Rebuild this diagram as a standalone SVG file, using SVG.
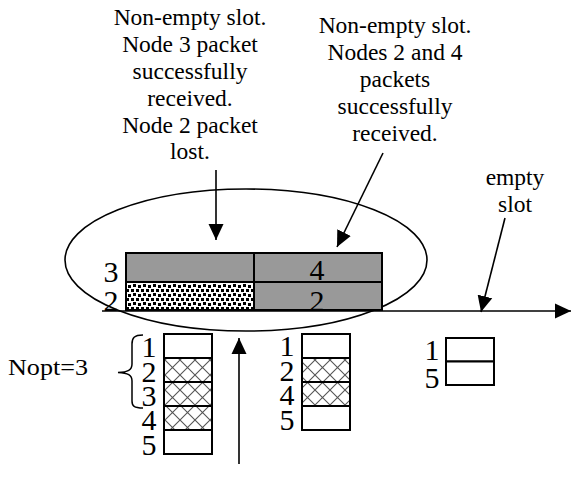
<svg xmlns="http://www.w3.org/2000/svg" width="571" height="481" viewBox="0 0 571 481" font-family="'Liberation Serif', 'DejaVu Serif', serif">
  <defs>
    <style>
      text { font-family: "Liberation Serif", "DejaVu Serif", serif; fill: #000; }
      .note { font-size: 23.5px; text-anchor: middle; }
      .num { font-size: 30px; text-anchor: middle; }
      .lbl { font-size: 23.5px; }
      .cell { stroke: #000; stroke-width: 2; }
      .conn { stroke: #000; stroke-width: 1.6; fill: none; }
    </style>
    <marker id="head" markerUnits="userSpaceOnUse" markerWidth="16" markerHeight="16" viewBox="0 0 16 16" refX="16" refY="8" orient="auto">
      <path d="M0,0.5 L16,8 L0,15.5 Z" fill="#000"/>
    </marker>
    <!-- speckle fill for the lost packet -->
    <pattern id="dots" patternUnits="userSpaceOnUse" width="10" height="9">
      <rect width="10" height="9" fill="#fff"/>
      <rect x="1" y="1" width="3" height="3" fill="#000"/>
      <rect x="6" y="1" width="3" height="3" fill="#000"/>
      <rect x="3" y="5" width="3" height="3" fill="#000"/>
      <rect x="8" y="6" width="3" height="3" fill="#000"/>
      <rect x="-2" y="6" width="3" height="3" fill="#000"/>
    </pattern>
    <!-- diamond cross-hatch for backlogged nodes -->
    <pattern id="hatch" patternUnits="userSpaceOnUse" width="15" height="15">
      <rect width="15" height="15" fill="#fff"/>
      <path d="M0,0 L15,15 M15,0 L0,15" stroke="#555" stroke-width="1.1"/>
    </pattern>
  </defs>

  <!-- annotations -->
  <g id="note-left">
    <text class="note" x="190" y="25">Non-empty slot.</text>
    <text class="note" x="190" y="52">Node 3 packet</text>
    <text class="note" x="190" y="79">successfully</text>
    <text class="note" x="190" y="106">received.</text>
    <text class="note" x="190" y="132.5">Node 2 packet</text>
    <text class="note" x="190" y="159">lost.</text>
  </g>
  <g id="note-right">
    <text class="note" x="395" y="33">Non-empty slot.</text>
    <text class="note" x="395" y="60">Nodes 2 and 4</text>
    <text class="note" x="395" y="87">packets</text>
    <text class="note" x="395" y="114">successfully</text>
    <text class="note" x="395" y="141">received.</text>
  </g>
  <g id="note-empty">
    <text class="note" x="515" y="185">empty</text>
    <text class="note" x="515" y="212">slot</text>
  </g>

  <!-- highlighted region -->
  <g id="frame">
    <ellipse cx="246" cy="260" rx="181" ry="71" fill="none" stroke="#000" stroke-width="1.6"/>
  </g>

  <!-- slot 1: node 3 received, node 2 lost -->
  <g id="slot1">
    <rect class="cell" x="126" y="253" width="128" height="29" fill="#999"/>
    <rect class="cell" x="126" y="282" width="128" height="28" fill="url(#dots)"/>
    <text class="num" x="111" y="282">3</text>
    <text class="num" x="111" y="311">2</text>
  </g>

  <!-- slot 2: nodes 4 and 2 received -->
  <g id="slot2">
    <rect class="cell" x="254" y="253" width="128" height="29" fill="#999"/>
    <rect class="cell" x="254" y="282" width="128" height="28" fill="#999"/>
    <text class="num" x="317" y="280">4</text>
    <text class="num" x="317" y="311">2</text>
  </g>

  <!-- node stacks -->
  <g id="stack1">
    <rect class="cell" x="164" y="334" width="48" height="24" fill="#fff"/>
    <rect class="cell" x="164" y="358" width="48" height="24" fill="url(#hatch)"/>
    <rect class="cell" x="164" y="382" width="48" height="24" fill="url(#hatch)"/>
    <rect class="cell" x="164" y="406" width="48" height="24" fill="url(#hatch)"/>
    <rect class="cell" x="164" y="430" width="48" height="24" fill="#fff"/>
    <text class="num" x="149" y="357">1</text>
    <text class="num" x="149" y="381.5">2</text>
    <text class="num" x="149" y="406">3</text>
    <text class="num" x="149" y="430">4</text>
    <text class="num" x="149" y="454.5">5</text>
  </g>
  <g id="stack2">
    <rect class="cell" x="302" y="334" width="48" height="24" fill="#fff"/>
    <rect class="cell" x="302" y="358" width="48" height="24" fill="url(#hatch)"/>
    <rect class="cell" x="302" y="382" width="48" height="24" fill="url(#hatch)"/>
    <rect class="cell" x="302" y="406" width="48" height="24" fill="#fff"/>
    <text class="num" x="287" y="356">1</text>
    <text class="num" x="287" y="381">2</text>
    <text class="num" x="287" y="405">4</text>
    <text class="num" x="287" y="430">5</text>
  </g>
  <g id="stack3">
    <rect class="cell" x="446" y="338" width="48" height="23.5" fill="#fff"/>
    <rect class="cell" x="446" y="361.5" width="48" height="23.5" fill="#fff"/>
    <text class="num" x="432" y="360">1</text>
    <text class="num" x="432" y="388">5</text>
  </g>

  <g id="nopt">
    <text class="lbl" x="8" y="375" textLength="80" lengthAdjust="spacingAndGlyphs">Nopt=3</text>
    <path d="M143,335 C134,335 132,338 132,344 L132,364 C132,370 128,372 118,372.5 C128,373 132,375 132,381 L132,401 C132,406 134,408 143,408" fill="none" stroke="#000" stroke-width="1.5"/>
  </g>

  <!-- connectors -->
  <g id="connectors">
    <line class="conn" x1="102" y1="311" x2="571" y2="311" stroke-width="2" marker-end="url(#head)"/>
    <line class="conn" x1="216" y1="170" x2="216" y2="240" marker-end="url(#head)"/>
    <line class="conn" x1="383" y1="153" x2="337" y2="247" marker-end="url(#head)"/>
    <line class="conn" x1="505" y1="218" x2="481" y2="312" marker-end="url(#head)"/>
    <line class="conn" x1="239" y1="464" x2="239" y2="338" marker-end="url(#head)"/>
  </g>
</svg>
